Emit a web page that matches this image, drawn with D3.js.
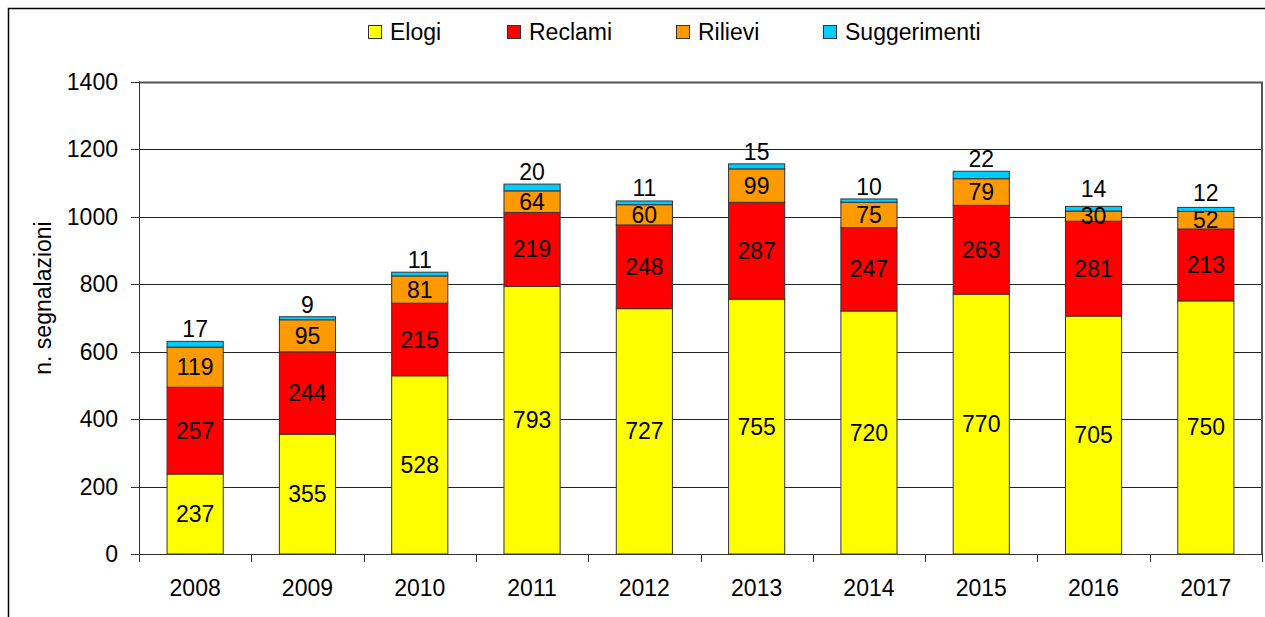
<!DOCTYPE html>
<html><head><meta charset="utf-8">
<script src="https://cdn.jsdelivr.net/npm/d3@7"></script>
<style>body{margin:0;background:#fff;}svg{display:block;font-family:"Liberation Sans",Arial,sans-serif;}</style>
</head><body>
<svg id="c" width="1265" height="617"></svg>
<script>
const years = ["2008","2009","2010","2011","2012","2013","2014","2015","2016","2017"];
const elogi = [237,355,528,793,727,755,720,770,705,750];
const reclami = [257,244,215,219,248,287,247,263,281,213];
const rilievi = [119,95,81,64,60,99,75,79,30,52];
const suggerimenti = [17,9,11,20,11,15,10,22,14,12];
const seriesNames = ["Elogi","Reclami","Rilievi","Suggerimenti"];
const seriesColors = ["#FFFF00","#FF0000","#FF9900","#00CCFF"];
const yTicks = [0,200,400,600,800,1000,1200,1400];
const yTitle = "n. segnalazioni";

const FS = 23;
const svg = d3.select("#c");
const left = 139, right = 1262, y0 = 554, yTop = 81.5;
const x = d3.scaleBand().domain(years).range([left, right]).paddingInner(0.5).paddingOuter(0.25);
const y = d3.scaleLinear().domain([0,1400]).range([y0, yTop]);

// outer frame
svg.append("rect").attr("x",8.5).attr("y",8.5).attr("width",1300).attr("height",700)
  .attr("fill","none").attr("stroke","#000").attr("stroke-width",1.5);

// gridlines
svg.append("g").selectAll("line").data(yTicks.filter(d=>d>0 && d<1400)).join("line")
  .attr("x1",left).attr("x2",right).attr("y1",d=>Math.round(y(d))+0.5).attr("y2",d=>Math.round(y(d))+0.5)
  .attr("stroke","#222").attr("stroke-width",1);
// plot border top & right
svg.append("path").attr("d",`M${left},${Math.round(yTop)+0.5}H${right}V${y0}`)
  .attr("fill","none").attr("stroke","#555").attr("stroke-width",2);

// stacked data
const table = years.map((yr,i)=>({year:yr, Elogi:elogi[i], Reclami:reclami[i], Rilievi:rilievi[i], Suggerimenti:suggerimenti[i]}));
const stack = d3.stack().keys(seriesNames)(table);

const g = svg.append("g");
stack.forEach((s,si)=>{
  g.append("g").selectAll("rect").data(s).join("rect")
    .attr("x",d=>x(d.data.year)).attr("width",x.bandwidth())
    .attr("y",d=>y(d[1])).attr("height",d=>y(d[0])-y(d[1]))
    .attr("fill",seriesColors[si]).attr("stroke","#333").attr("stroke-width",1);
});
// labels
const midBase = d => (y(d[0])+y(d[1]))/2 + 8;
stack.forEach((s,si)=>{
  g.append("g").selectAll("text").data(s).join("text")
    .attr("x",d=>x(d.data.year)+x.bandwidth()/2)
    .attr("y",(d,i)=> {
      if (si!==3) return midBase(d);
      const prev = stack[2][i];
      return Math.min(y(d[1])-4, midBase(prev) - 27);
    })
    .attr("text-anchor","middle").attr("font-size",FS).attr("fill","#000")
    .text(d=>d[1]-d[0]);
});

// axes
const axisG = svg.append("g");
axisG.append("line").attr("x1",left+0.5).attr("x2",left+0.5).attr("y1",yTop).attr("y2",y0+8).attr("stroke","#333");
axisG.append("line").attr("x1",left).attr("x2",right).attr("y1",y0+0.5).attr("y2",y0+0.5).attr("stroke","#333");
axisG.selectAll(".yt").data(yTicks).join("line")
  .attr("x1",left-8).attr("x2",left).attr("y1",d=>Math.round(y(d))+0.5).attr("y2",d=>Math.round(y(d))+0.5).attr("stroke","#333");
axisG.selectAll(".yl").data(yTicks).join("text")
  .attr("x",118).attr("y",d=>y(d)+8).attr("text-anchor","end").attr("font-size",FS).text(d=>d);
const step = x.step();
axisG.selectAll(".xt").data(d3.range(years.length+1)).join("line")
  .attr("x1",i=>Math.round(left+i*step)+0.5).attr("x2",i=>Math.round(left+i*step)+0.5)
  .attr("y1",y0).attr("y2",y0+8).attr("stroke","#333");
axisG.selectAll(".xl").data(years).join("text")
  .attr("x",d=>x(d)+x.bandwidth()/2).attr("y",596).attr("text-anchor","middle").attr("font-size",FS).text(d=>d);

svg.append("text").attr("transform","translate(51,298) rotate(-90)").attr("text-anchor","middle")
  .attr("font-size",FS).text(yTitle);

// legend
const legX = [368,507,676,823];
const leg = svg.append("g");
seriesNames.forEach((n,i)=>{
  leg.append("rect").attr("x",legX[i]+0.5).attr("y",25.5).attr("width",13).attr("height",13)
    .attr("fill",seriesColors[i]).attr("stroke","#333").attr("stroke-width",1);
  leg.append("text").attr("x",legX[i]+22).attr("y",40).attr("font-size",FS).text(n);
});
</script>
</body></html>
